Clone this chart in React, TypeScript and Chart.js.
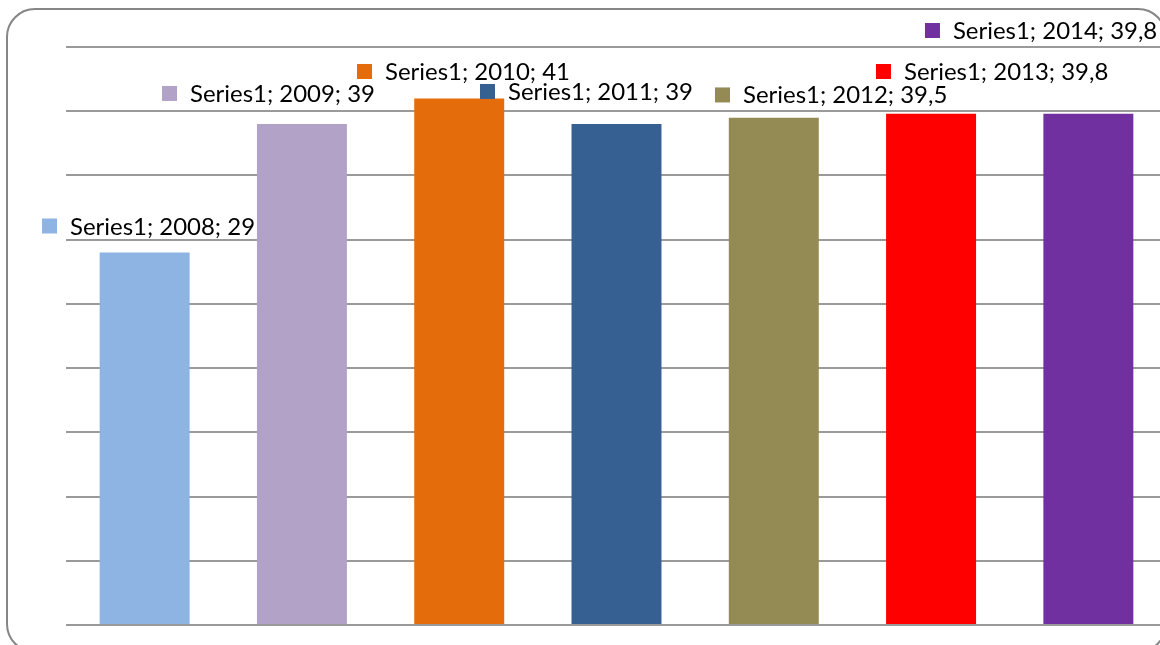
import React, { useEffect, useRef } from "react";
import { Chart, registerables } from "chart.js";

Chart.register(...registerables);

const categories = ["2008", "2009", "2010", "2011", "2012", "2013", "2014"];
const seriesName = "Series1";
const values = [29, 39, 41, 39, 39.5, 39.8, 39.8];
const valueLabels = ["29", "39", "41", "39", "39,5", "39,8", "39,8"];
const barColors = ["#8EB4E3", "#B3A2C7", "#E46C0A", "#376092", "#948A54", "#FF0000", "#7030A0"];
// label placement (offset of marker's left edge from bar centre, and of label middle from bar top)
const labelDx = [-102.6, -139.9, -102.2, -136.5, -58.8, -55.1, -163.4];
const labelDy = [-26.5, -30.6, -26.9, -32.6, -22.7, -42.3, -83.3];

const FONT_FAMILY = "Lato, 'Open Sans', sans-serif";

const labelPlugin = {
  id: "excelLabels",
  afterDatasetsDraw(chart: any) {
    const ctx = chart.ctx;
    const meta = chart.getDatasetMeta(0);
    ctx.save();
    // fit font size so a reference label spans ~185px like the original
    ctx.font = `24px ${FONT_FAMILY}`;
    const w = ctx.measureText("Series1; 2010; 41").width;
    const fs = (24 * 185) / w;
    ctx.font = `${fs}px ${FONT_FAMILY}`;
    const capH = ctx.measureText("S").actualBoundingBoxAscent;
    meta.data.forEach((bar: any, i: number) => {
      const mx = bar.x + labelDx[i];
      const cy = bar.y + labelDy[i];
      ctx.fillStyle = barColors[i];
      ctx.fillRect(mx, cy - 7.5, 15, 15);
      ctx.fillStyle = "#000";
      ctx.textBaseline = "alphabetic";
      ctx.textAlign = "left";
      ctx.fillText(`${seriesName}; ${categories[i]}; ${valueLabels[i]}`, mx + 28, cy + capH / 2);
    });
    ctx.restore();
  },
};

const borderPlugin = {
  id: "roundBorder",
  afterDraw(chart: any) {
    const ctx = chart.ctx;
    ctx.save();
    ctx.strokeStyle = "#868686";
    ctx.lineWidth = 2;
    ctx.beginPath();
    ctx.roundRect(7, 9, 1166 - 7, 652 - 9, 28);
    ctx.stroke();
    ctx.restore();
  },
};

export default function App() {
  const ref = useRef<HTMLCanvasElement>(null);
  useEffect(() => {
    if (!ref.current) return;
    const chart = new Chart(ref.current, {
      type: "bar",
      data: {
        labels: categories,
        datasets: [
          {
            label: seriesName,
            data: values,
            backgroundColor: barColors,
            borderWidth: 0,
            barPercentage: 0.572,
            categoryPercentage: 1,
          },
        ],
      },
      options: {
        responsive: false,
        animation: false,
        devicePixelRatio: 1,
        layout: { padding: { left: 66, right: 13, top: 47, bottom: 35 } },
        plugins: { legend: { display: false }, tooltip: { enabled: false } },
        scales: {
          x: { display: false },
          y: {
            min: 0,
            max: 45,
            ticks: { display: false, stepSize: 5 },
            border: { display: false },
            grid: { color: "#9a9a9a", lineWidth: 2, drawTicks: false, tickLength: 0 },
            afterFit: (s: any) => {
              s.width = 0;
            },
          },
        },
      },
      plugins: [labelPlugin, borderPlugin],
    });
    return () => chart.destroy();
  }, []);
  return (
    <div
      style={{
        position: "fixed",
        left: 0,
        top: 0,
        width: 1160,
        height: 645,
        overflow: "hidden",
        background: "#fff",
      }}
    >
      <canvas ref={ref} width={1180} height={660} style={{ display: "block" }} />
    </div>
  );
}
